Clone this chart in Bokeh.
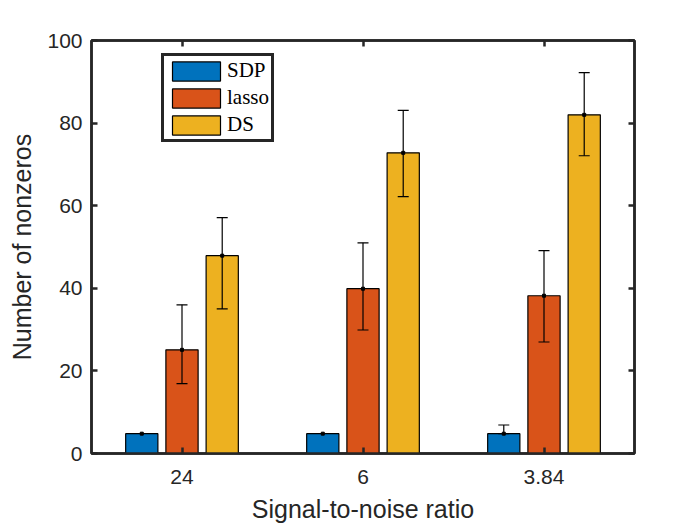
from bokeh.plotting import figure
from bokeh.models import (Range1d, FixedTicker, LinearAxis, Legend, LegendItem,
                          Whisker, ColumnDataSource, TeeHead)
from bokeh.embed import file_html
from bokeh.resources import INLINE

# ---- data ----
categories = ["24", "6", "3.84"]
series_names = ["SDP", "lasso", "DS"]
sdp_mean = [4.8, 4.8, 4.8]
sdp_upper = [4.8, 4.8, 6.9]
sdp_lower = [4.8, 4.8, 4.8]
lasso_mean = [25.1, 39.9, 38.2]
lasso_upper = [36.0, 51.0, 49.1]
lasso_lower = [16.9, 29.9, 27.0]
ds_mean = [47.9, 72.8, 82.0]
ds_upper = [57.1, 83.1, 92.2]
ds_lower = [35.0, 62.2, 72.1]
y_ticks = [0, 20, 40, 60, 80, 100]

colors = ["#0072BD", "#D95319", "#EDB120"]
offsets = [-0.2222, 0.0, 0.2222]
bar_width = 0.178
axis_color = "#262626"
font = "Liberation Sans"

p = figure(width=700, height=526, output_backend="svg", toolbar_location=None,
           x_range=Range1d(0.5, 3.5), y_range=Range1d(0, 100),
           min_border_left=91, min_border_right=66, min_border_top=40,
           min_border_bottom=73)
p.grid.visible = False
p.outline_line_color = axis_color
p.outline_line_width = 2.5
p.background_fill_color = "white"
p.border_fill_color = "white"

cat_pos = list(range(1, len(categories) + 1))
series = [(sdp_mean, sdp_upper, sdp_lower),
          (lasso_mean, lasso_upper, lasso_lower),
          (ds_mean, ds_upper, ds_lower)]

bar_renderers = []
for (mean, up, lo), col, off in zip(series, colors, offsets):
    xs = [c + off for c in cat_pos]
    r = p.vbar(x=xs, top=mean, bottom=0, width=bar_width, fill_color=col,
               line_color="black", line_width=1.2)
    bar_renderers.append(r)
for (mean, up, lo), col, off in zip(series, colors, offsets):
    xs = [c + off for c in cat_pos]
    keep = [i for i in range(len(xs)) if up[i] > lo[i]]
    src = ColumnDataSource(dict(x=[xs[i] for i in keep],
                                upper=[up[i] for i in keep],
                                lower=[lo[i] for i in keep]))
    w = Whisker(source=src, base="x", upper="upper", lower="lower",
                line_color="black", line_width=1.2, level="overlay",
                upper_head=TeeHead(size=11, line_color="black", line_width=1.2),
                lower_head=TeeHead(size=11, line_color="black", line_width=1.2))
    p.add_layout(w)
    p.scatter(x=xs, y=mean, marker="square", size=3, color="black",
              level="overlay")

# axes
p.xaxis.ticker = FixedTicker(ticks=cat_pos)
p.xaxis.major_label_overrides = {c: lab for c, lab in zip(cat_pos, categories)}
p.yaxis.ticker = FixedTicker(ticks=y_ticks)
p.xaxis.axis_label = "Signal-to-noise ratio"
p.yaxis.axis_label = "Number of nonzeros"

for ax in [p.xaxis[0], p.yaxis[0]]:
    ax.axis_line_color = axis_color
    ax.axis_line_width = 2.5
    ax.major_tick_line_color = axis_color
    ax.major_tick_line_width = 2.5
    ax.major_tick_in = 6
    ax.major_tick_out = 0
    ax.minor_tick_line_color = None
    ax.major_label_text_font = font
    ax.major_label_text_font_size = "21px"
    ax.major_label_text_color = axis_color
    ax.axis_label_text_font = font
    ax.axis_label_text_font_size = "25px"
    ax.axis_label_text_font_style = "normal"
    ax.axis_label_text_color = axis_color
p.xaxis.major_label_standoff = 16
p.xaxis.axis_label_standoff = 8
p.yaxis.major_label_standoff = 9
p.yaxis.axis_label_standoff = 8

top_ax = LinearAxis(ticker=FixedTicker(ticks=cat_pos))
right_ax = LinearAxis(ticker=FixedTicker(ticks=y_ticks))
for ax in [top_ax, right_ax]:
    ax.axis_line_color = axis_color
    ax.axis_line_width = 2.5
    ax.major_tick_line_color = axis_color
    ax.major_tick_line_width = 2.5
    ax.major_tick_in = 6
    ax.major_tick_out = 0
    ax.minor_tick_line_color = None
    ax.major_label_text_font_size = "8px"
    ax.major_label_text_color = None
    ax.major_label_standoff = 0
p.add_layout(top_ax, "above")
p.add_layout(right_ax, "right")

legend = Legend(items=[LegendItem(label=n, renderers=[r])
                       for n, r in zip(series_names, bar_renderers)],
                location=(70, 311))
legend.label_text_font = "Liberation Serif"
legend.label_text_font_size = "21px"
legend.label_text_color = "black"
legend.glyph_width = 60
legend.glyph_height = 24
legend.label_height = 20
legend.spacing = 2
legend.padding = 2
legend.margin = 0
legend.label_standoff = 1
legend.border_line_color = axis_color
legend.border_line_width = 3
legend.border_line_alpha = 1
legend.background_fill_color = "white"
legend.background_fill_alpha = 1
p.add_layout(legend, "center")

open("out.html", "w").write(file_html(p, INLINE))
